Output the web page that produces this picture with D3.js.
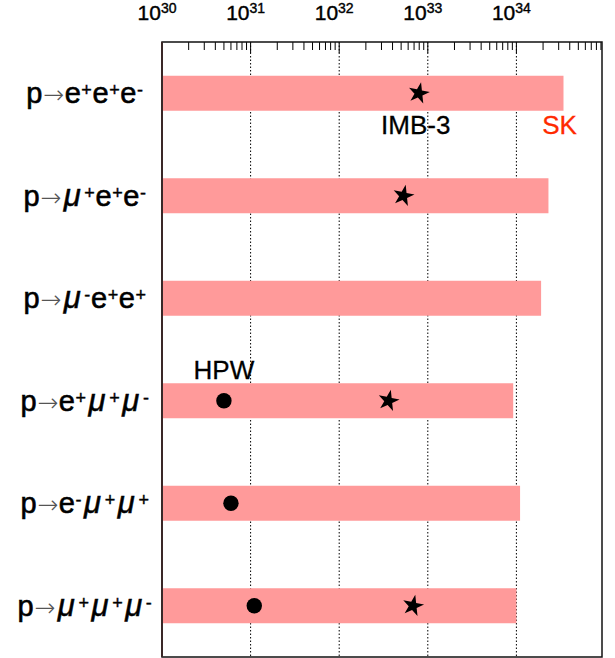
<!DOCTYPE html>
<html>
<head>
<meta charset="utf-8">
<script src="https://cdn.jsdelivr.net/npm/d3@7"></script>
<style>
  html, body { margin: 0; padding: 0; background: #fff; }
  svg { display: block; }
  text { font-family: "Liberation Sans", Arial, Helvetica, sans-serif; }
</style>
</head>
<body>
<svg id="chart" width="615" height="658"></svg>
<script>
// ---------- data ----------
const channels = ["p→e^+e^+e^-", "p→μ^+e^+e^-", "p→μ^-e^+e^+", "p→e^+μ^+μ^-", "p→e^-μ^+μ^+", "p→μ^+μ^+μ^-"];
const skLimits  = [3.4e34, 2.3e34, 1.9e34, 9.2e33, 1.1e34, 1.0e34];   // bars (SK)
const imbLimits = [7.9e32, 5.3e32, null, 3.6e32, null, 6.8e32];       // stars (IMB-3)
const hpwLimits = [null, null, null, 5.0e30, 6.0e30, 1.1e31];         // dots (HPW)
const decadeExponents = [30, 31, 32, 33, 34];
const seriesNames = ["SK", "IMB-3", "HPW"];

// ---------- layout ----------
const W = 615, H = 658;
const plotL = 162, plotR = 602, plotT = 42, plotB = 657;
const barH = 35;

const svg = d3.select("#chart");

const x = d3.scaleLog().domain([1e30, 1e35]).range([plotL, 605]);
const y = d3.scalePoint().domain(d3.range(channels.length)).range([plotT, plotB]).padding(0.5);

// dotted grid lines at decades
const gridDecades = decadeExponents.slice(1).map(e => Math.pow(10, e));
svg.append("g").selectAll("line").data(gridDecades).join("line")
  .attr("x1", d => x(d)).attr("x2", d => x(d))
  .attr("y1", plotT).attr("y2", plotB)
  .attr("stroke", "#000").attr("stroke-width", 1)
  .attr("stroke-dasharray", "1.5,2");

// bars
svg.append("g").selectAll("rect").data(skLimits).join("rect")
  .attr("x", x(1e30))
  .attr("y", (d, i) => y(i) - barH / 2)
  .attr("width", d => x(d) - x(1e30))
  .attr("height", barH)
  .attr("fill", "#ff9a9a");

// top axis ticks (major + minor)
const allTicks = [];
decadeExponents.forEach(e => {
  for (let m = 1; m <= 9; m++) allTicks.push({ v: m * Math.pow(10, e), major: m === 1 });
});
svg.append("g").selectAll("line").data(allTicks.filter(t => x(t.v) <= plotR + 0.5)).join("line")
  .attr("x1", d => x(d.v)).attr("x2", d => x(d.v))
  .attr("y1", plotT).attr("y2", d => plotT + (d.major ? 11 : 8))
  .attr("stroke", "#000").attr("stroke-width", 1);

// tick labels 10^n
const tl = svg.append("g").selectAll("text").data(decadeExponents).join("text")
  .attr("x", e => x(Math.pow(10, e)) - 5)
  .attr("y", 20)
  .attr("text-anchor", "middle")
  .attr("fill", "#000")
  .attr("stroke", "#000").attr("stroke-width", 0.4);
tl.append("tspan").attr("font-size", 21).text("10");
tl.append("tspan").attr("font-size", 14).attr("dy", -7).text(e => e);

// frame
svg.append("rect")
  .attr("x", plotL).attr("y", plotT)
  .attr("width", plotR - plotL).attr("height", plotB - plotT)
  .attr("fill", "none").attr("stroke", "#111").attr("stroke-width", 1.5);
svg.append("line")
  .attr("x1", plotL).attr("x2", plotL).attr("y1", plotT).attr("y2", plotB)
  .attr("stroke", "#3a2828").attr("stroke-width", 2);

// HPW dots
svg.append("g").selectAll("circle")
  .data(hpwLimits.map((v, i) => ({ v, i })).filter(d => d.v !== null)).join("circle")
  .attr("cx", d => x(d.v)).attr("cy", d => y(d.i))
  .attr("r", 7.7).attr("fill", "#000");

// IMB-3 stars
const star = d3.symbol().type(d3.symbolStar).size(140);
svg.append("g").selectAll("path")
  .data(imbLimits.map((v, i) => ({ v, i })).filter(d => d.v !== null)).join("path")
  .attr("d", star)
  .attr("transform", d => `translate(${x(d.v)},${y(d.i)}) rotate(12)`)
  .attr("fill", "#000");

// category labels with superscripts
function addLabel(g, str) {
  const t = g.append("text").attr("text-anchor", "middle").attr("fill", "#000")
    .attr("letter-spacing", 0.6);
  let raised = false;
  let prevMu = false;
  for (let k = 0; k < str.length; k++) {
    let ch = str[k];
    if (ch === "^") {
      const s = str[++k];
      t.append("tspan").attr("font-size", 18).attr("dy", raised ? 0 : -7)
        .attr("dx", prevMu ? 3 : 0)
        .attr("stroke", "#000").attr("stroke-width", 0.4).text(s);
      raised = true;
      prevMu = false;
      continue;
    }
    const ts = t.append("tspan").attr("dy", raised ? 7 : 0);
    raised = false;
    prevMu = false;
    if (ch === "→") {
      ts.attr("font-size", 25).attr("fill", "#555").attr("font-family", "DejaVu Sans").attr("font-weight", "200").text(ch);
    } else if (ch === "μ") {
      ts.attr("font-size", 31).attr("font-style", "italic").attr("dx", 2)
        .attr("stroke", "#000").attr("stroke-width", 0.5).text(ch);
      prevMu = true;
    } else {
      ts.attr("font-size", 29).attr("stroke", "#000").attr("stroke-width", 0.6).text(ch);
    }
  }
  return t;
}
channels.forEach((c, i) => {
  const g = svg.append("g").attr("transform", `translate(85,${y(i) + 10})`);
  addLabel(g, c);
});

// series annotations
const ann = svg.append("g").attr("stroke-width", 0.3);
ann.append("text").attr("x", x(imbLimits[0]) - 3).attr("y", y(0) + 41)
  .attr("text-anchor", "middle").attr("font-size", 26).attr("fill", "#000").attr("stroke", "#000").text(seriesNames[1]);
ann.append("text").attr("x", x(skLimits[0]) - 4).attr("y", y(0) + 41)
  .attr("text-anchor", "middle").attr("font-size", 26).attr("fill", "#ff2a00").attr("stroke", "#ff2a00").text(seriesNames[0]);
ann.append("text").attr("x", x(hpwLimits[3])).attr("y", y(3) - 22)
  .attr("text-anchor", "middle").attr("font-size", 26).attr("fill", "#000").attr("stroke", "#000").text(seriesNames[2]);
</script>
</body>
</html>
